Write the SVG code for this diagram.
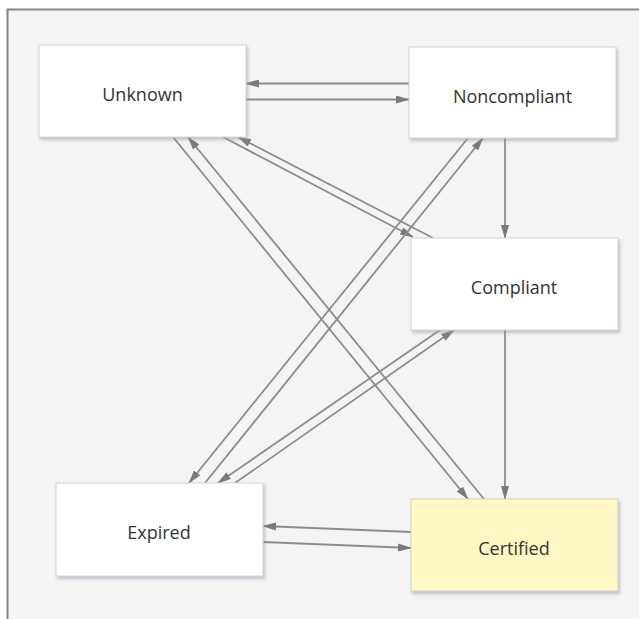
<svg xmlns="http://www.w3.org/2000/svg" width="639" height="619" viewBox="0 0 639 619">
<style>
.frame{fill:#f4f4f4;stroke:#858585;stroke-width:2}
.box{fill:#ffffff;stroke:#d4d4d4;stroke-width:1;filter:url(#sh)}
.cert{fill:#fff7c4}
.lbl{font-family:"Open Sans","Noto Sans",sans-serif;font-size:18px;fill:#333333;text-anchor:middle}
.edge{stroke:#8c8c8c;stroke-width:1.8;fill:none;marker-end:url(#ah)}
</style>
<defs>
<marker id="ah" viewBox="0 0 14 8" refX="13" refY="4" markerWidth="14" markerHeight="8" markerUnits="userSpaceOnUse" orient="auto">
<path d="M0,0 L14,4 L0,8 Z" fill="#7a7a7a"/>
</marker>
<filter id="sh" x="-10%" y="-10%" width="125%" height="130%">
<feDropShadow dx="1.5" dy="2.5" stdDeviation="1.8" flood-color="#8f96aa" flood-opacity="0.55"/>
</filter>
</defs>
<rect class="frame" x="7.5" y="9.5" width="700" height="700"/>
<g id="connectors">
<line class="edge" x1="409" y1="83.5" x2="246" y2="83.5"/>
<line class="edge" x1="246" y1="99.5" x2="409" y2="99.5"/>
<line class="edge" x1="505" y1="138" x2="505" y2="238"/>
<line class="edge" x1="505" y1="330" x2="505" y2="499"/>
<line class="edge" x1="411" y1="532" x2="263" y2="526"/>
<line class="edge" x1="263" y1="542" x2="411" y2="548"/>
<line class="edge" x1="173" y1="137" x2="468" y2="499"/>
<line class="edge" x1="484" y1="499" x2="188" y2="137"/>
<line class="edge" x1="223" y1="137" x2="413" y2="237"/>
<line class="edge" x1="433" y1="238" x2="238" y2="137"/>
<line class="edge" x1="468" y1="138" x2="189" y2="483"/>
<line class="edge" x1="205" y1="483" x2="483" y2="138"/>
<line class="edge" x1="440" y1="330" x2="218" y2="483"/>
<line class="edge" x1="235" y1="483" x2="454" y2="330"/>
</g>
<g id="unknown"><rect class="box" x="39" y="45" width="207" height="92"/><text class="lbl" x="142.5" y="101">Unknown</text></g>
<g id="noncompliant"><rect class="box" x="409" y="47" width="207" height="91"/><text class="lbl" x="512.5" y="102.5">Noncompliant</text></g>
<g id="compliant"><rect class="box" x="411" y="238" width="207" height="92"/><text class="lbl" x="514" y="294">Compliant</text></g>
<g id="expired"><rect class="box" x="56" y="483" width="207" height="93"/><text class="lbl" x="159" y="539">Expired</text></g>
<g id="certified"><rect class="box cert" x="411" y="499" width="207" height="92"/><text class="lbl" x="514" y="554.5">Certified</text></g>
</svg>
